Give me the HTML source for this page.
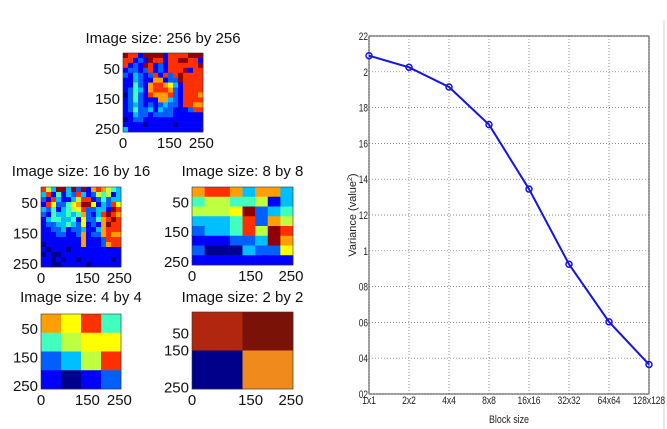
<!DOCTYPE html>
<html><head><meta charset="utf-8"><style>
html,body{margin:0;padding:0;background:#fff;}
body{width:667px;height:429px;position:relative;overflow:hidden;font-family:"Liberation Sans",sans-serif;}
</style></head><body>
<svg id="left" width="330" height="429" style="position:absolute;left:0;top:0"></svg>
<svg id="chart" width="667" height="429" style="position:absolute;left:0;top:0"></svg>
<script>
// ---- chart data ----
const categories=["1x1","2x2","4x4","8x8","16x16","32x32","64x64","128x128"];
const variance=[2.09,2.025,1.915,1.705,1.345,0.925,0.603,0.365];
const yTicks=[0.2,0.4,0.6,0.8,1.0,1.2,1.4,1.6,1.8,2.0,2.2];
const yTickLabels=["02","04","06","08","1","12","14","16","18","2","22"];

const NS="http://www.w3.org/2000/svg";
function mk(parent,tag,attrs){const e=document.createElementNS(NS,tag);for(const k in attrs)e.setAttribute(k,attrs[k]);parent.appendChild(e);return e;}

// ---- chart ----
const svg=document.getElementById('chart');
const X0=369,X1=649,Y0=394,Y1=36;
const xScale=i=>X0+i*(X1-X0)/(categories.length-1);
const yScale=v=>Y0-(v-0.2)/(2.2-0.2)*(Y0-Y1);
let ln=mk(svg,'line',{x1:664,y1:20,x2:664,y2:429,stroke:'#ddd','stroke-width':1.2});


mk(svg,'rect',{x:X0,y:Y1,width:X1-X0,height:Y0-Y1,fill:'none',stroke:'#000','stroke-width':0.8});
yTicks.forEach((v,i)=>{
  const y=yScale(v);
  const g=mk(svg,'line',{x1:X0,y1:y,x2:X1,y2:y,stroke:'#666','stroke-width':0.7,'stroke-dasharray':'1,2'});
  
  
  const s=yTickLabels[i];
  const t=mk(svg,'text',{x:X0-1,y:y+4,'text-anchor':'end','font-size':11,fill:'#222','font-family':'Liberation Sans',textLength:s.length*4.6,lengthAdjust:'spacingAndGlyphs'});
  t.textContent=s;
  
  
});
categories.forEach((c,i)=>{
  const x=xScale(i);
  const g=mk(svg,'line',{x1:x,y1:Y1,x2:x,y2:Y0,stroke:'#666','stroke-width':0.7,'stroke-dasharray':'1,2'});
  
  
  const t=mk(svg,'text',{x:x,y:404,'text-anchor':'middle','font-size':11,fill:'#222','font-family':'Liberation Sans',textLength:c.length*4.6,lengthAdjust:'spacingAndGlyphs'});
  t.textContent=c;
  
  
});
let pts=variance.map((v,i)=>xScale(i)+','+yScale(v)).join(' ');
const pl=mk(svg,'polyline',{points:pts,fill:'none',stroke:'#1515e0','stroke-width':2});


variance.forEach((v,i)=>{
  const c=mk(svg,'circle',{cx:xScale(i),cy:yScale(v),r:3,fill:'none',stroke:'#1515e0','stroke-width':1.5});
  
  
});
let xt=mk(svg,'text',{x:509,y:423,'text-anchor':'middle','font-size':11,fill:'#222','font-family':'Liberation Sans',textLength:40,lengthAdjust:'spacingAndGlyphs'});
xt.textContent='Block size';


let yt=mk(svg,'text',{x:356,y:215,'text-anchor':'middle','font-size':11,fill:'#222','font-family':'Liberation Sans',transform:'rotate(-90 356 215)'});
yt.innerHTML='Variance (value<tspan font-size="7" dy="-4">2</tspan><tspan dy="4">)</tspan>';



// ---- image panels ----
const jet=["#00008f","#0000ff","#0060ff","#00bfff","#40ffbf","#bfff40","#ffff00","#ff9f00","#ff3000","#8f0000"];
const img256=[
"9881999918888999",
"8812198818899881",
"8121981218888889",
"1221281218889188",
"2132128182898888",
"1132117712298888",
"1142178876318888",
"1243178887218888",
"0242187778218887",
"1242111773218888",
"1232121232218877",
"1242231322111288",
"1132212222111111",
"0122111111111111",
"1111011111011111",
"3111111111111111"];
const img16=[
"8539939291787543",
"3814132831254513",
"2183113588124233",
"1862246799613286",
"3241345682233198",
"2143343472138987",
"1344334162247898",
"1223343261217988",
"1122312231137888",
"1112211271227877",
"1111111171112888",
"0111111171112788",
"1011101111111111",
"0100111111111111",
"1101011011111101",
"1100111110111111"];
const img8=[
"78873773",
"45544513",
"55569234",
"33348275",
"23348598",
"11122397",
"20003226",
"11111111"];
const img4=["7684","4566","2358","1012"];
const img2c=[["#b0260e","#7a1208"],["#00008b","#f08a1c"]];
const L=document.getElementById('left');
function title(x,y,txt,name){const t=mk(L,'text',{x:x,y:y,'text-anchor':'middle','font-size':15,fill:'#111','font-family':'Liberation Sans'});t.textContent=txt;}
function panel(name,x,y,w,h,grid,colorFn,ttlY,ttl,ylab){
  title(x+w/2,ttlY,ttl,name+'-title');
  const g=mk(L,'g',{});
  
  
  const n=grid.length,m=grid[0].length;
  for(let r=0;r<n;r++)for(let c=0;c<m;c++){
    mk(g,'rect',{x:x+c*w/m,y:y+r*h/n,width:w/m+0.3,height:h/n+0.3,fill:colorFn(grid[r][c],r,c)});
  }
  mk(L,'rect',{x:x,y:y,width:w,height:h,fill:'none',stroke:'#333','stroke-width':0.6});
  const ys=ylab||[0.2,0.58,0.96];
  ["50","150","250"].forEach((s,i)=>{const t=mk(L,'text',{x:x-3,y:y+ys[i]*h+5,'text-anchor':'end','font-size':15,fill:'#111','font-family':'Liberation Sans'});t.textContent=s;});
  [["0",0],["150",0.58],["250",0.98]].forEach(([s,f])=>{const t=mk(L,'text',{x:x+f*w,y:y+h+16,'text-anchor':'middle','font-size':15,fill:'#111','font-family':'Liberation Sans'});t.textContent=s;});
}
const jf=ch=>jet[+ch];
panel('image-256',123,53,80,79,img256,jf,43,'Image size: 256 by 256');
panel('image-16',41,187,80,80,img16,jf,176,'Image size: 16 by 16');
panel('image-8',192,187,101,78,img8,jf,176,'Image size: 8 by 8');
panel('image-4',41,314,80,75,img4,jf,302,'Image size: 4 by 4');
panel('image-2',192,312,101,77,img2c.map(r=>r.map((_,i)=>i)),(v,r,c)=>img2c[r][c],302,'Image size: 2 by 2',[0.28,0.5,0.98]);
</script>
</body></html>
